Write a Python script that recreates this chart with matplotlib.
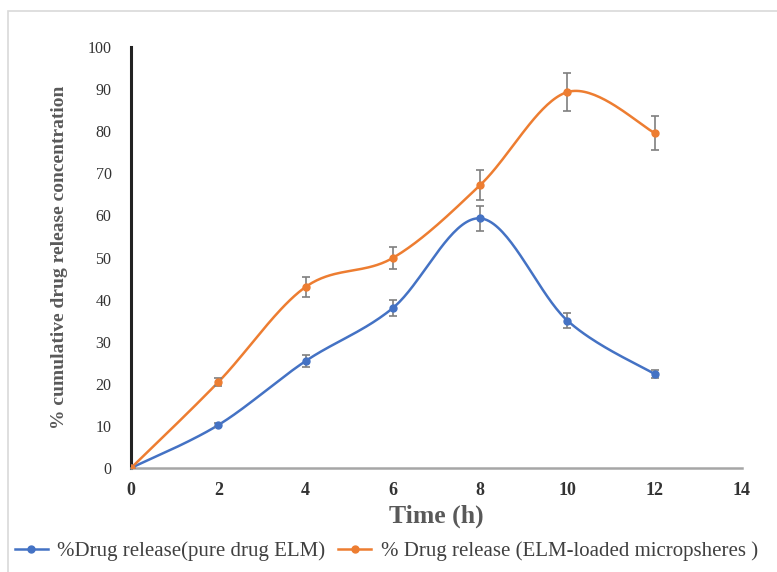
import numpy as np
import matplotlib.pyplot as plt
from matplotlib.patches import Rectangle

time_h = [0, 2, 4, 6, 8, 10, 12]
pure_drug = [0, 10.2, 25.4, 38.0, 59.3, 35.0, 22.3]
pure_err = [0, 0.5, 1.4, 2.0, 3.0, 1.8, 1.0]
loaded = [0, 20.4, 43.0, 49.9, 67.2, 89.3, 79.6]
loaded_err = [0, 0.9, 2.3, 2.6, 3.5, 4.5, 4.0]

labels = ['%Drug release(pure drug ELM)', '% Drug release (ELM-loaded micropsheres )']
blue = '#4472C4'
orange = '#ED7D31'


# Excel-style smoothed line (cubic Bezier through the points)
def smooth(xs, ys, n=40):
    p = np.column_stack([xs, ys]).astype(float)
    out = []
    for i in range(len(p) - 1):
        p0 = p[i - 1] if i > 0 else p[i]
        p3 = p[i + 2] if i + 2 < len(p) else p[i + 1]
        c1 = p[i] + (p[i + 1] - p0) / 6
        c2 = p[i + 1] - (p3 - p[i]) / 6
        t = np.linspace(0, 1, n)[:, None]
        seg = ((1 - t) ** 3) * p[i] + 3 * ((1 - t) ** 2) * t * c1 + 3 * (1 - t) * t ** 2 * c2 + t ** 3 * p[i + 1]
        out.append(seg)
    out = np.vstack(out)
    return out[:, 0], out[:, 1]


plt.rcParams['font.family'] = ['Liberation Serif', 'DejaVu Serif']

fig = plt.figure(figsize=(7.77, 5.72), dpi=100)
fig.patches.append(Rectangle((8 / 777, -0.01), 1.0, 1 - 11 / 572 + 0.01, transform=fig.transFigure,
                             fill=False, edgecolor='#d9d9d9', linewidth=1.2))
ax = fig.add_axes([131 / 777, 104 / 572, 611 / 777, 421 / 572])

for ys, errs, col, lab in [(pure_drug, pure_err, blue, labels[0]), (loaded, loaded_err, orange, labels[1])]:
    sx, sy = smooth(time_h, ys)
    ax.plot(sx, sy, color=col, linewidth=1.8, zorder=2)
    ax.errorbar(time_h, ys, yerr=errs, fmt='none', ecolor='#7f7f7f', elinewidth=1.2, capsize=3, capthick=1.2, zorder=3)
    ax.plot(time_h, ys, 'o', color=col, markersize=5, zorder=4)
    ax.plot([], [], '-o', color=col, markersize=5, linewidth=1.8, label=lab)

ax.set_xlim(0, 14)
ax.set_ylim(0, 100)
ax.set_xticks(range(0, 15, 2))
ax.set_yticks(range(0, 101, 10))
ax.tick_params(axis='both', length=0)
ax.tick_params(axis='x', pad=10, labelsize=13)
ax.tick_params(axis='y', pad=14, labelsize=11.5)
for t in ax.get_xticklabels():
    t.set_fontweight('bold')
    t.set_color('#333333')
for t in ax.get_yticklabels():
    t.set_color('#333333')

ax.spines['top'].set_visible(False)
ax.spines['right'].set_visible(False)
ax.spines['left'].set_color('#222222')
ax.spines['left'].set_linewidth(2.2)
ax.spines['bottom'].set_color('#a6a6a6')
ax.spines['bottom'].set_linewidth(1.8)

ax.set_xlabel('Time (h)', fontsize=18.5, fontweight='bold', color='#595959', labelpad=4)
ax.set_ylabel('% cumulative drug release concentration', fontsize=14, fontweight='bold', color='#595959', labelpad=14)

fig.legend(loc='lower left', bbox_to_anchor=(-4 / 777, -8 / 572), ncol=2, frameon=False, fontsize=15,
           handlelength=1.6, columnspacing=0.6, handletextpad=0.45, labelcolor='#404040')

fig.savefig('out.png', dpi=100)
